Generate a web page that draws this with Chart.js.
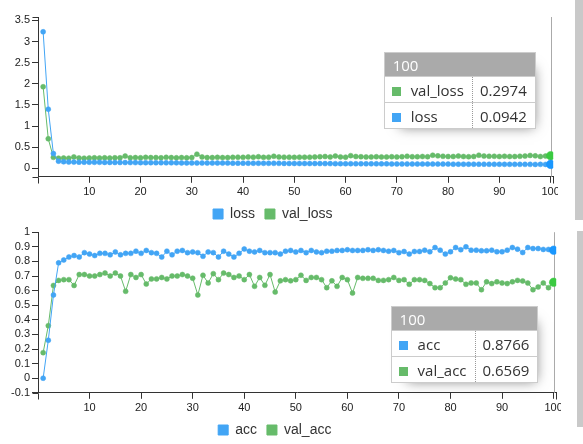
<!DOCTYPE html>
<html>
<head>
<meta charset="utf-8">
<script src="https://cdn.jsdelivr.net/npm/chart.js@4.4.1/dist/chart.umd.min.js"></script>
<style>
  html, body { margin: 0; padding: 0; background: #fff; overflow: hidden; width: 583px; height: 444px; }
  canvas { position: absolute; left: 0; }
  #lossCanvas { top: 0; }
  #accCanvas { top: 222px; }
  .scroll { position: absolute; background: #c9c9c9; }
  .c3-tooltip { position: absolute; border-collapse: collapse; border-spacing: 0; background: #fff;
    box-shadow: 7px 7px 12px -9px #777; font-family: "Open Sans", Lato, sans-serif; color: #333; }
  .c3-tooltip tr { border: 1px solid #ccc; }
  .c3-tooltip th { background: #aaa; color: #fff; font-size: 15px; font-weight: normal; text-align: left;
    padding: 0 8px; height: 23px; }
  .c3-tooltip td { font-size: 15px; padding: 0 8px 0 7px; height: 25px; border-left: 1px dotted #999; white-space: nowrap; }
  .c3-tooltip td.value { text-align: right; }
  .c3-tooltip td span { display: inline-block; width: 9px; height: 9px; margin-right: 10px; }
</style>
</head>
<body>
<canvas id="lossCanvas" width="558" height="236"></canvas>
<canvas id="accCanvas" width="561" height="230"></canvas>
<div class="scroll" style="left:575px;top:0;width:8px;height:220px"></div>
<div class="scroll" style="left:577px;top:231px;width:6px;height:196px"></div>
<script>
// epochs on the x axis
const epochs = Array.from({ length: 100 }, (_, i) => i + 1);
const xTicks = [10, 20, 30, 40, 50, 60, 70, 80, 90, 100];
const lossTicks = [0, 0.5, 1, 1.5, 2, 2.5, 3, 3.5];
const accTicks = [-0.1, 0, 0.1, 0.2, 0.3, 0.4, 0.5, 0.6, 0.7, 0.8, 0.9, 1];

const lossValues = [
  3.23, 1.40, 0.35, 0.17, 0.155, 0.15, 0.148, 0.146, 0.145, 0.144,
  0.143, 0.142, 0.141, 0.14, 0.139, 0.138, 0.138, 0.137, 0.136, 0.135,
  0.134, 0.134, 0.133, 0.132, 0.131, 0.131, 0.130, 0.129, 0.129, 0.128,
  0.127, 0.127, 0.126, 0.125, 0.125, 0.124, 0.124, 0.123, 0.122, 0.122,
  0.121, 0.121, 0.120, 0.119, 0.119, 0.118, 0.118, 0.117, 0.116, 0.116,
  0.115, 0.115, 0.114, 0.114, 0.113, 0.112, 0.112, 0.111, 0.111, 0.110,
  0.110, 0.109, 0.109, 0.108, 0.108, 0.107, 0.106, 0.106, 0.105, 0.105,
  0.104, 0.104, 0.103, 0.103, 0.102, 0.102, 0.101, 0.101, 0.100, 0.100,
  0.099, 0.099, 0.098, 0.098, 0.098, 0.097, 0.097, 0.096, 0.096, 0.096,
  0.095, 0.095, 0.095, 0.094, 0.094, 0.094, 0.093, 0.094, 0.093, 0.0942
];
const valLossValues = [
  1.93, 0.70, 0.26, 0.24, 0.245, 0.24, 0.27, 0.245, 0.24, 0.245,
  0.25, 0.245, 0.25, 0.245, 0.25, 0.25, 0.29, 0.25, 0.255, 0.25,
  0.26, 0.255, 0.255, 0.25, 0.26, 0.255, 0.25, 0.255, 0.25, 0.255,
  0.335, 0.27, 0.255, 0.255, 0.26, 0.255, 0.255, 0.26, 0.265, 0.26,
  0.27, 0.265, 0.275, 0.26, 0.265, 0.285, 0.27, 0.265, 0.265, 0.26,
  0.265, 0.265, 0.265, 0.27, 0.275, 0.28, 0.27, 0.29, 0.27, 0.265,
  0.30, 0.28, 0.275, 0.27, 0.27, 0.275, 0.27, 0.27, 0.275, 0.27,
  0.275, 0.285, 0.275, 0.275, 0.28, 0.275, 0.31, 0.295, 0.285, 0.28,
  0.28, 0.29, 0.28, 0.275, 0.28, 0.31, 0.29, 0.285, 0.285, 0.28,
  0.285, 0.28, 0.28, 0.285, 0.29, 0.305, 0.295, 0.28, 0.29, 0.2974
];
const accValues = [
  0.0, 0.26, 0.57, 0.79, 0.81, 0.83, 0.84, 0.83, 0.86, 0.85,
  0.84, 0.855, 0.855, 0.845, 0.865, 0.845, 0.855, 0.855, 0.87, 0.855,
  0.875, 0.86, 0.855, 0.83, 0.87, 0.845, 0.87, 0.875, 0.86, 0.865,
  0.86, 0.835, 0.865, 0.86, 0.83, 0.87, 0.85, 0.83, 0.855, 0.885,
  0.87, 0.865, 0.875, 0.86, 0.86, 0.86, 0.85, 0.87, 0.875, 0.865,
  0.875, 0.86, 0.875, 0.865, 0.86, 0.87, 0.87, 0.875, 0.875, 0.88,
  0.875, 0.875, 0.875, 0.88, 0.875, 0.88, 0.875, 0.87, 0.875, 0.86,
  0.868, 0.85, 0.868, 0.868, 0.877, 0.866, 0.895, 0.877, 0.85, 0.866,
  0.895, 0.88, 0.9, 0.877, 0.877, 0.873, 0.873, 0.877, 0.866, 0.866,
  0.877, 0.895, 0.884, 0.861, 0.895, 0.888, 0.888, 0.882, 0.882, 0.8766
];
const valAccValues = [
  0.175, 0.36, 0.635, 0.67, 0.675, 0.675, 0.635, 0.71, 0.71, 0.70,
  0.70, 0.71, 0.72, 0.70, 0.72, 0.70, 0.595, 0.71, 0.69, 0.71,
  0.645, 0.68, 0.68, 0.69, 0.68, 0.70, 0.70, 0.71, 0.70, 0.685,
  0.57, 0.705, 0.652, 0.716, 0.675, 0.72, 0.71, 0.69, 0.70, 0.675,
  0.71, 0.629, 0.69, 0.636, 0.71, 0.59, 0.667, 0.675, 0.667, 0.675,
  0.705, 0.67, 0.69, 0.69, 0.675, 0.62, 0.667, 0.629, 0.69, 0.675,
  0.583, 0.69, 0.684, 0.684, 0.684, 0.67, 0.67, 0.675, 0.69, 0.67,
  0.675, 0.643, 0.675, 0.675, 0.67, 0.648, 0.62, 0.62, 0.652, 0.688,
  0.68, 0.675, 0.643, 0.652, 0.652, 0.606, 0.66, 0.648, 0.66, 0.652,
  0.648, 0.66, 0.67, 0.666, 0.652, 0.606, 0.625, 0.652, 0.62, 0.6569
];

const blue = '#42a5f5';
const green = '#66bb6a';
const tickFont = { family: '"Liberation Sans", Arial, sans-serif', size: 11 };

// where each chart's tooltip and legend sit
const tipTop = { lossCanvas: 52, accCanvas: 84 };
const legendShift = { lossCanvas: { dx: -5, dy: -5 }, accCanvas: { dx: -4, dy: -5 } };

function series(label, values, color) {
  return {
    label: label,
    data: epochs.map((e, i) => ({ x: e, y: values[i] })),
    borderColor: color,
    backgroundColor: color,
    borderWidth: 1,
    pointRadius: 2.5,
    pointBorderWidth: 0.5,
    pointHoverRadius: 4.3,
    pointHoverBorderWidth: 0.5,
    tension: 0
  };
}

function externalTip(context) {
  const chart = context.chart;
  const tooltip = context.tooltip;
  const id = chart.canvas.id + 'Tip';
  let el = document.getElementById(id);
  if (!el) {
    el = document.createElement('table');
    el.id = id;
    el.className = 'c3-tooltip';
    document.body.appendChild(el);
  }
  if (tooltip.opacity === 0 || !tooltip.dataPoints) {
    el.style.display = 'none';
    return;
  }
  const points = tooltip.dataPoints.slice().sort((a, b) => b.parsed.y - a.parsed.y);
  let html = '<tr><th colspan="2">' + points[0].parsed.x + '</th></tr>';
  points.forEach(p => {
    html += '<tr><td class="name"><span style="background:' + p.dataset.borderColor + '"></span>' +
      p.dataset.label + '</td><td class="value">' + p.parsed.y.toFixed(4) + '</td></tr>';
  });
  el.innerHTML = html;
  el.style.display = 'table';
  el.style.left = (chart.canvas.offsetLeft + tooltip.caretX - el.offsetWidth - 15) + 'px';
  el.style.top = (chart.canvas.offsetTop + tipTop[chart.canvas.id]) + 'px';
}

// focus line, axis end ticks, legend nudge
const c3Look = {
  id: 'c3Look',
  afterLayout(chart) {
    const s = legendShift[chart.canvas.id];
    chart.legend.top += s.dy; chart.legend.bottom += s.dy;
    chart.legend.left += s.dx; chart.legend.right += s.dx;
  },
  beforeDatasetsDraw(chart) {
    const act = chart.getActiveElements();
    if (!act.length) return;
    const ctx = chart.ctx, area = chart.chartArea;
    const x = Math.round(act[0].element.x) + 0.5;
    ctx.save();
    ctx.strokeStyle = '#aaa';
    ctx.lineWidth = 1;
    ctx.beginPath();
    ctx.moveTo(x, area.top);
    ctx.lineTo(x, area.bottom);
    ctx.stroke();
    ctx.restore();
  },
  afterDraw(chart) {
    const ctx = chart.ctx, a = chart.chartArea;
    const l = Math.round(a.left) + 0.5, r = Math.round(a.right) + 0.5;
    const t = Math.round(a.top) + 0.5, b = Math.round(a.bottom) + 0.5;
    ctx.save();
    ctx.strokeStyle = '#333';
    ctx.lineWidth = 1;
    ctx.beginPath();
    ctx.moveTo(l - 6, t); ctx.lineTo(l, t);
    ctx.moveTo(l - 6, b); ctx.lineTo(l, b);
    ctx.moveTo(l, b); ctx.lineTo(l, b + 6);
    ctx.moveTo(r, b - 0.5); ctx.lineTo(r, b + 6);
    ctx.stroke();
    ctx.restore();
  }
};

function makeChart(canvasId, sets, yMin, yMax, yTicks, pad) {
  const chart = new Chart(document.getElementById(canvasId), {
    type: 'line',
    data: { datasets: sets },
    plugins: [c3Look],
    options: {
      responsive: false,
      animation: false,
      events: [],
      layout: { padding: pad },
      scales: {
        x: {
          type: 'linear',
          min: 0,
          max: 100.5,
          afterBuildTicks: scale => { scale.ticks = xTicks.map(v => ({ value: v })); },
          afterFit: scale => { scale.paddingLeft = 0; scale.paddingRight = 0; },
          grid: { drawOnChartArea: false, drawTicks: true, tickLength: 6, color: '#333' },
          border: { color: '#333' },
          ticks: { font: tickFont, color: '#222', padding: 3, maxRotation: 0, autoSkip: false, callback: v => String(v) }
        },
        y: {
          min: yMin,
          max: yMax,
          afterBuildTicks: scale => { scale.ticks = yTicks.map(v => ({ value: v })); },
          afterFit: scale => { scale.width = 38; },
          grid: { drawOnChartArea: false, drawTicks: true, tickLength: 6, color: '#333' },
          border: { color: '#333' },
          ticks: { font: tickFont, color: '#222', padding: 2, autoSkip: false, callback: v => String(v) }
        }
      },
      plugins: {
        legend: {
          position: 'bottom',
          labels: {
            boxWidth: 10,
            boxHeight: 10,
            padding: 10,
            color: '#333',
            font: { family: '"Liberation Sans", Arial, sans-serif', size: 14 }
          }
        },
        tooltip: {
          enabled: false,
          mode: 'index',
          intersect: false,
          position: 'average',
          external: externalTip
        }
      }
    }
  });
  const last = epochs.length - 1;
  const active = sets.map((s, i) => ({ datasetIndex: i, index: last }));
  chart.tooltip.setActiveElements(active, { x: 0, y: 0 });
  chart.setActiveElements(active);
  chart.update();
  return chart;
}

makeChart('lossCanvas',
  [series('loss', lossValues, blue), series('val_loss', valLossValues, green)],
  -0.2, 3.58, lossTicks, { top: 17, right: 2.4, left: 0, bottom: 0 });

makeChart('accCanvas',
  [series('acc', accValues, blue), series('val_acc', valAccValues, green)],
  -0.1, 1, accTicks, { top: 10.2, right: 3.4, left: 0, bottom: 0 });
</script>
</body>
</html>
